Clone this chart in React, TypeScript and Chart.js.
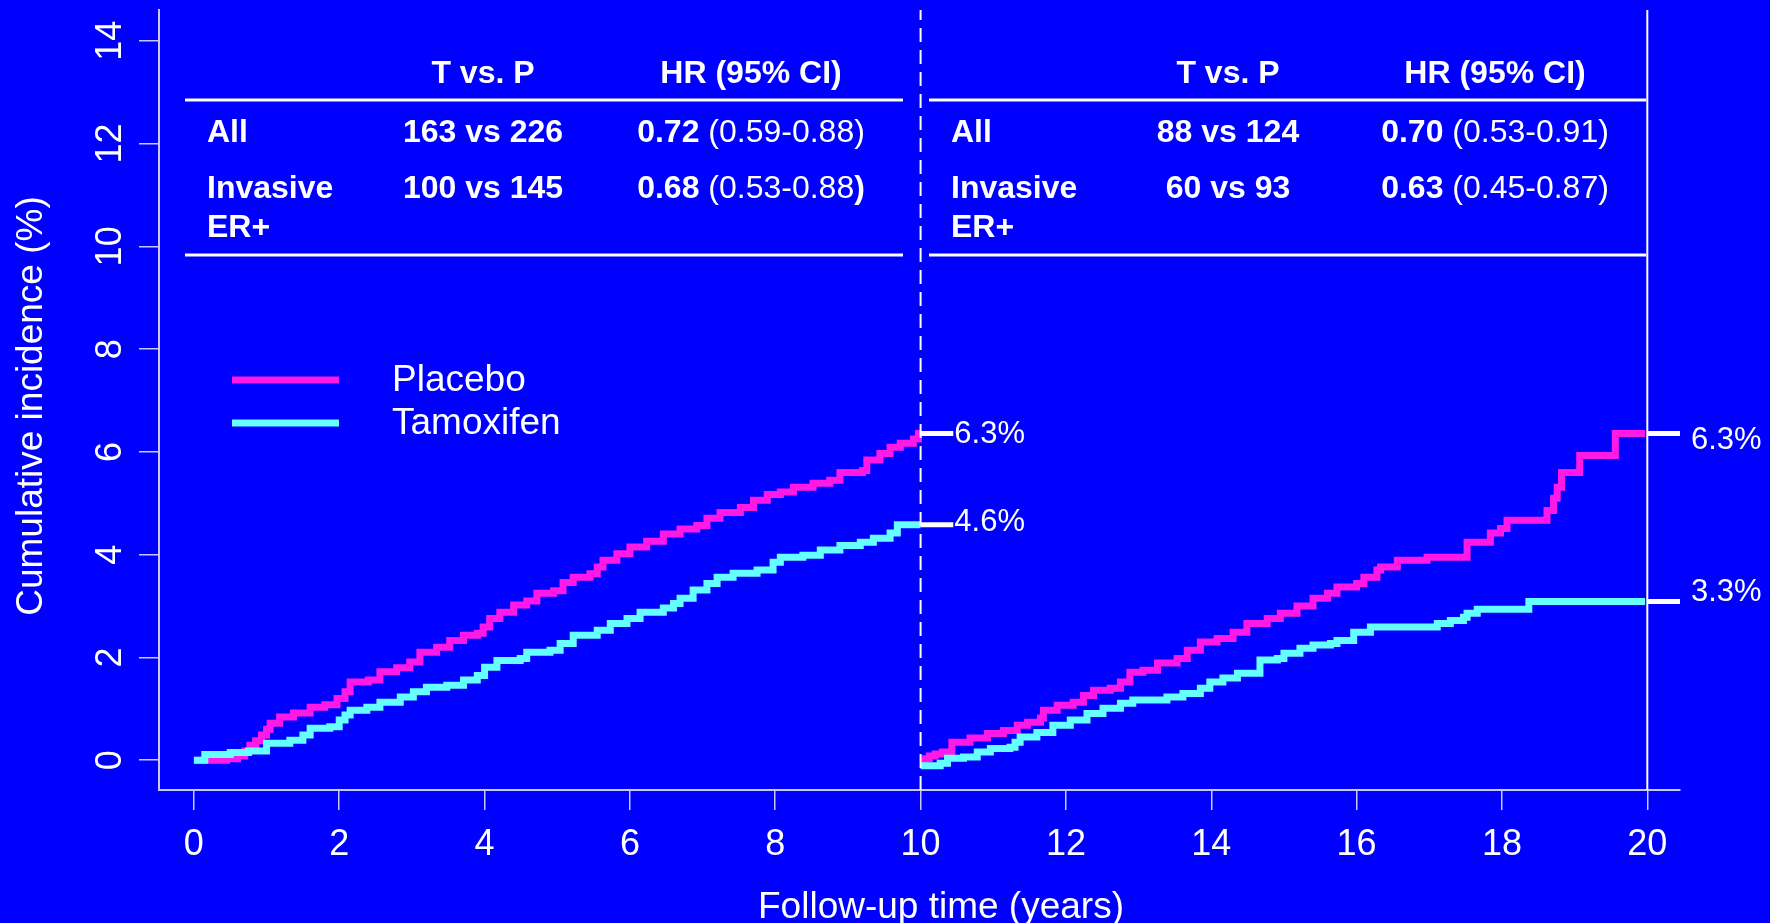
import React, { useEffect, useRef } from 'react';
import { Chart, registerables } from 'chart.js';

Chart.register(...registerables);

// ---------------- data ----------------
const xTickValues = [0, 2, 4, 6, 8, 10, 12, 14, 16, 18, 20];
const yTickValues = [0, 2, 4, 6, 8, 10, 12, 14];

const seriesNames = ['Placebo', 'Tamoxifen'];

// cumulative incidence (%) step points [year, value], first 10 years
const placeboFirst: [number, number][] = [
  [0, 0], [0.15, 0], [0.45, 0.03], [0.6, 0.08], [0.7, 0.18], [0.77, 0.29], [0.85, 0.38], [0.93, 0.49],
  [1.0, 0.6], [1.05, 0.72], [1.18, 0.84], [1.37, 0.92], [1.6, 1.03], [1.8, 1.08], [1.97, 1.2], [2.08, 1.33],
  [2.15, 1.52], [2.4, 1.56], [2.56, 1.72], [2.79, 1.8], [2.97, 1.91], [3.11, 2.1], [3.34, 2.2], [3.52, 2.33],
  [3.71, 2.43], [3.9, 2.47], [3.98, 2.59], [4.07, 2.76], [4.21, 2.88], [4.4, 3.02], [4.58, 3.1], [4.72, 3.25],
  [4.95, 3.3], [5.08, 3.46], [5.22, 3.56], [5.45, 3.63], [5.55, 3.76], [5.63, 3.89], [5.82, 4.02], [6.0, 4.15],
  [6.23, 4.26], [6.46, 4.4], [6.69, 4.5], [6.92, 4.57], [7.06, 4.71], [7.24, 4.82], [7.52, 4.92], [7.7, 5.06],
  [7.89, 5.17], [8.07, 5.22], [8.25, 5.31], [8.52, 5.39], [8.75, 5.45], [8.89, 5.6], [9.2, 5.64], [9.26, 5.84],
  [9.44, 5.97], [9.58, 6.09], [9.72, 6.17], [9.9, 6.25], [9.97, 6.36], [10.0, 6.36],
];
const tamoxifenFirst: [number, number][] = [
  [0, 0], [0.15, 0.11], [0.5, 0.15], [0.75, 0.18], [1.0, 0.33], [1.32, 0.39], [1.5, 0.49], [1.6, 0.62],
  [1.87, 0.65], [2.0, 0.78], [2.08, 0.88], [2.15, 0.97], [2.38, 1.03], [2.56, 1.13], [2.84, 1.23], [3.02, 1.33],
  [3.2, 1.42], [3.48, 1.46], [3.71, 1.56], [3.9, 1.65], [4.0, 1.81], [4.17, 1.94], [4.49, 1.98], [4.58, 2.1],
  [4.9, 2.14], [5.04, 2.27], [5.22, 2.43], [5.55, 2.53], [5.73, 2.66], [5.96, 2.76], [6.14, 2.88], [6.46, 2.96],
  [6.6, 3.05], [6.69, 3.15], [6.87, 3.31], [7.06, 3.44], [7.2, 3.56], [7.42, 3.64], [7.75, 3.7], [7.97, 3.85],
  [8.07, 3.95], [8.38, 3.99], [8.62, 4.09], [8.89, 4.18], [9.17, 4.24], [9.35, 4.32], [9.58, 4.42], [9.68, 4.58],
  [10.0, 4.58],
];
// years 10-20
const placeboSecond: [number, number][] = [
  [10, -0.03], [10.06, 0.03], [10.12, 0.08], [10.2, 0.12], [10.3, 0.16], [10.43, 0.35], [10.68, 0.43], [10.92, 0.52],
  [11.14, 0.58], [11.33, 0.68], [11.47, 0.74], [11.65, 0.82], [11.69, 0.97], [11.88, 1.07], [12.1, 1.13], [12.24, 1.26],
  [12.38, 1.36], [12.61, 1.4], [12.75, 1.52], [12.88, 1.71], [13.06, 1.75], [13.26, 1.89], [13.53, 1.98], [13.67, 2.14],
  [13.85, 2.3], [14.08, 2.37], [14.3, 2.49], [14.49, 2.66], [14.77, 2.76], [14.95, 2.86], [15.18, 3.0], [15.4, 3.15],
  [15.6, 3.25], [15.73, 3.37], [16.0, 3.44], [16.1, 3.56], [16.28, 3.7], [16.33, 3.76], [16.56, 3.89], [16.97, 3.95],
  [17.52, 4.24], [17.84, 4.42], [17.98, 4.51], [18.07, 4.67], [18.62, 4.86], [18.71, 5.1], [18.76, 5.31], [18.82, 5.6],
  [19.07, 5.93], [19.56, 6.36], [19.97, 6.36],
];
const tamoxifenSecond: [number, number][] = [
  [10, -0.11], [10.27, -0.06], [10.37, 0.04], [10.59, 0.06], [10.78, 0.16], [10.96, 0.23], [11.23, 0.25], [11.3, 0.35],
  [11.37, 0.45], [11.6, 0.54], [11.82, 0.68], [12.06, 0.78], [12.29, 0.91], [12.51, 1.01], [12.75, 1.11], [12.92, 1.17],
  [13.39, 1.23], [13.61, 1.3], [13.85, 1.4], [13.98, 1.52], [14.16, 1.6], [14.36, 1.69], [14.67, 1.95], [14.91, 1.98],
  [15.0, 2.08], [15.22, 2.18], [15.4, 2.24], [15.64, 2.27], [15.73, 2.33], [15.96, 2.49], [16.19, 2.59], [17.11, 2.66],
  [17.29, 2.72], [17.47, 2.78], [17.52, 2.86], [17.66, 2.94], [18.37, 3.09], [19.97, 3.09],
];

const endLabelsFirst = ['6.3%', '4.6%'];
const endLabelsSecond = ['6.3%', '3.3%'];

const tableHeaders = ['T vs. P', 'HR (95% CI)'];
const tableRowLabels = [['All'], ['Invasive', 'ER+']];
const countsFirst = ['163 vs 226', '100 vs 145'];
const hrFirst = ['0.72', '0.68'];
const ciFirst = ['(0.59-0.88)', '(0.53-0.88)'];
const countsSecond = ['88 vs 124', '60 vs 93'];
const hrSecond = ['0.70', '0.63'];
const ciSecond = ['(0.53-0.91)', '(0.45-0.87)'];

const xTitle = 'Follow-up time (years)';
const yTitle = 'Cumulative incidence (%)';

const splitYear = 10;
const endYear = 20;

// ---------------- styles ----------------
const BG = '#0000ff';
const MAGENTA = '#ff19e6';
const CYAN = '#66ffff';
const AXIS = '#c8c8ff';
const FONT = '"Liberation Sans", Arial, Helvetica, sans-serif';
const X_MIN = -0.48;
const X_MAX = 20.45;
const Y_MIN = -0.58;
const Y_MAX = 14.6;
const DASH_LEN = 0.45;

const toPts = (arr: [number, number][]) => arr.map(([x, y]) => ({ x, y }));
const last = (arr: [number, number][]) => arr[arr.length - 1][1];

function drawTable(ctx: CanvasRenderingContext2D, t: any, counts: string[], hrs: string[], cis: string[], boldClose: boolean[]) {
  ctx.strokeStyle = '#ffffff';
  ctx.lineWidth = 3;
  [100, 255].forEach((y) => {
    ctx.beginPath();
    ctx.moveTo(t.x1, y);
    ctx.lineTo(t.x2, y);
    ctx.stroke();
  });
  const bold = `bold 32px ${FONT}`;
  const normal = `32px ${FONT}`;
  ctx.fillStyle = '#ffffff';
  ctx.textBaseline = 'alphabetic';
  ctx.font = bold;
  ctx.textAlign = 'center';
  ctx.fillText(tableHeaders[0], t.countX, 83);
  ctx.fillText(tableHeaders[1], t.hrX, 83);
  const rowBase = [142, 198];
  tableRowLabels.forEach((lines, r) => {
    ctx.font = bold;
    ctx.textAlign = 'left';
    lines.forEach((s, k) => ctx.fillText(s, t.labelX, rowBase[r] + k * 39));
    ctx.textAlign = 'center';
    ctx.fillText(counts[r], t.countX, rowBase[r]);
    ctx.textAlign = 'left';
    const hrText = hrs[r] + ' ';
    let ciText = cis[r];
    let tail = '';
    if (boldClose[r]) {
      tail = ciText.slice(-1);
      ciText = ciText.slice(0, -1);
    }
    ctx.font = bold;
    const w1 = ctx.measureText(hrText).width;
    const w3 = tail ? ctx.measureText(tail).width : 0;
    ctx.font = normal;
    const w2 = ctx.measureText(ciText).width;
    let x = t.hrX - (w1 + w2 + w3) / 2;
    ctx.font = bold;
    ctx.fillText(hrText, x, rowBase[r]);
    x += w1;
    ctx.font = normal;
    ctx.fillText(ciText, x, rowBase[r]);
    x += w2;
    if (tail) {
      ctx.font = bold;
      ctx.fillText(tail, x, rowBase[r]);
    }
  });
}

const overlayPlugin = {
  id: 'overlay',
  beforeDraw(chart: any) {
    const { ctx, width, height } = chart;
    ctx.save();
    ctx.fillStyle = BG;
    ctx.fillRect(0, 0, width, height);
    ctx.restore();
  },
  afterDraw(chart: any) {
    const ctx: CanvasRenderingContext2D = chart.ctx;
    const xs = chart.scales.x;
    const ys = chart.scales.y;
    ctx.save();
    ctx.fillStyle = '#ffffff';

    // y tick labels (rotated)
    ctx.font = `36px ${FONT}`;
    ctx.textAlign = 'center';
    ctx.textBaseline = 'alphabetic';
    yTickValues.forEach((v) => {
      const y = ys.getPixelForValue(v);
      ctx.save();
      ctx.translate(121, y);
      ctx.rotate(-Math.PI / 2);
      ctx.fillText(String(v), 0, 0);
      ctx.restore();
    });

    // axis titles
    ctx.font = `37px ${FONT}`;
    ctx.save();
    ctx.translate(42, 406);
    ctx.rotate(-Math.PI / 2);
    ctx.fillText(yTitle, 0, 0);
    ctx.restore();
    ctx.fillText(xTitle, 941, 918);

    // legend
    const legendColors = [MAGENTA, CYAN];
    const legendY = [380, 423];
    ctx.lineWidth = 7;
    ctx.lineCap = 'butt';
    seriesNames.forEach((name, i) => {
      ctx.strokeStyle = legendColors[i];
      ctx.beginPath();
      ctx.moveTo(232, legendY[i]);
      ctx.lineTo(339, legendY[i]);
      ctx.stroke();
      ctx.fillStyle = '#ffffff';
      ctx.font = `37px ${FONT}`;
      ctx.textAlign = 'left';
      ctx.textBaseline = 'middle';
      ctx.fillText(name, 392, legendY[i] + 1);
    });

    // tables
    drawTable(ctx, { x1: 185, x2: 903, labelX: 207, countX: 483, hrX: 751 }, countsFirst, hrFirst, ciFirst, [false, true]);
    drawTable(ctx, { x1: 929, x2: 1646, labelX: 951, countX: 1228, hrX: 1495 }, countsSecond, hrSecond, ciSecond, [false, false]);

    // end labels
    ctx.fillStyle = '#ffffff';
    ctx.font = `31px ${FONT}`;
    ctx.textAlign = 'left';
    ctx.textBaseline = 'middle';
    const firstEnds = [last(placeboFirst), last(tamoxifenFirst)];
    const secondEnds = [last(placeboSecond), last(tamoxifenSecond)];
    const firstOff = [1, -2];
    const secondOff = [7, -9];
    endLabelsFirst.forEach((s, i) => {
      ctx.fillText(s, xs.getPixelForValue(splitYear + DASH_LEN) + 1, ys.getPixelForValue(firstEnds[i]) + firstOff[i]);
    });
    endLabelsSecond.forEach((s, i) => {
      ctx.fillText(s, xs.getPixelForValue(endYear + DASH_LEN) + 11, ys.getPixelForValue(secondEnds[i]) + secondOff[i]);
    });
    ctx.restore();
  },
};

export default function App() {
  const canvasRef = useRef<HTMLCanvasElement | null>(null);

  useEffect(() => {
    document.body.style.margin = '0';
    document.body.style.background = BG;
    const canvas = canvasRef.current;
    if (!canvas) return;

    const curve = (data: [number, number][], color: string, order: number) => ({
      data: toPts(data),
      borderColor: color,
      backgroundColor: color,
      borderWidth: 7,
      stepped: 'before' as const,
      pointRadius: 0,
      fill: false,
      order,
      borderJoinStyle: 'miter' as const,
      borderCapStyle: 'butt' as const,
    });
    const straight = (data: { x: number; y: number }[], width: number, dash: number[] = []) => ({
      data,
      borderColor: '#ffffff',
      backgroundColor: '#ffffff',
      borderWidth: width,
      borderDash: dash,
      pointRadius: 0,
      fill: false,
      order: 0,
      borderCapStyle: 'butt' as const,
    });

    const endDashes = [
      [splitYear, last(placeboFirst)],
      [splitYear, last(tamoxifenFirst)],
      [endYear, last(placeboSecond)],
      [endYear, last(tamoxifenSecond)],
    ].map(([x0, y]) => straight([{ x: x0, y }, { x: x0 + DASH_LEN, y }], 5));

    const chart = new Chart(canvas, {
      type: 'line',
      data: {
        datasets: [
          curve(tamoxifenFirst, CYAN, 1),
          curve(placeboFirst, MAGENTA, 2),
          curve(tamoxifenSecond, CYAN, 1),
          curve(placeboSecond, MAGENTA, 2),
          straight([{ x: splitYear, y: Y_MIN }, { x: splitYear, y: Y_MAX }], 2, [14, 8]),
          straight([{ x: endYear, y: Y_MIN }, { x: endYear, y: Y_MAX }], 2),
          ...endDashes,
        ] as any,
      },
      options: {
        responsive: false,
        animation: false,
        events: [],
        layout: { padding: { top: 10, right: 90, left: 0, bottom: 0 } },
        plugins: {
          legend: { display: false },
          tooltip: { enabled: false },
        },
        scales: {
          x: {
            type: 'linear',
            min: X_MIN,
            max: X_MAX,
            afterBuildTicks: (s: any) => {
              s.ticks = xTickValues.map((v) => ({ value: v }));
            },
            afterFit: (s: any) => {
              s.height = 133;
            },
            grid: { drawOnChartArea: false, drawTicks: true, tickLength: 20, color: AXIS, lineWidth: 1.5 },
            border: { display: true, color: AXIS, width: 2 },
            ticks: {
              color: '#ffffff',
              font: { family: FONT, size: 36, lineHeight: 1 },
              padding: 17,
              maxRotation: 0,
              minRotation: 0,
              autoSkip: false,
              callback: (v: any) => String(v),
            },
          },
          y: {
            type: 'linear',
            min: Y_MIN,
            max: Y_MAX,
            afterBuildTicks: (s: any) => {
              s.ticks = yTickValues.map((v) => ({ value: v }));
            },
            afterFit: (s: any) => {
              s.width = 159;
            },
            grid: { drawOnChartArea: false, drawTicks: true, tickLength: 20, color: AXIS, lineWidth: 1.5 },
            border: { display: true, color: AXIS, width: 2 },
            ticks: { display: false },
          },
        },
      } as any,
      plugins: [overlayPlugin],
    });

    return () => chart.destroy();
  }, []);

  return (
    <div style={{ width: 1770, height: 923, background: BG, overflow: 'hidden' }}>
      <canvas ref={canvasRef} width={1770} height={923} style={{ display: 'block' }} />
    </div>
  );
}
